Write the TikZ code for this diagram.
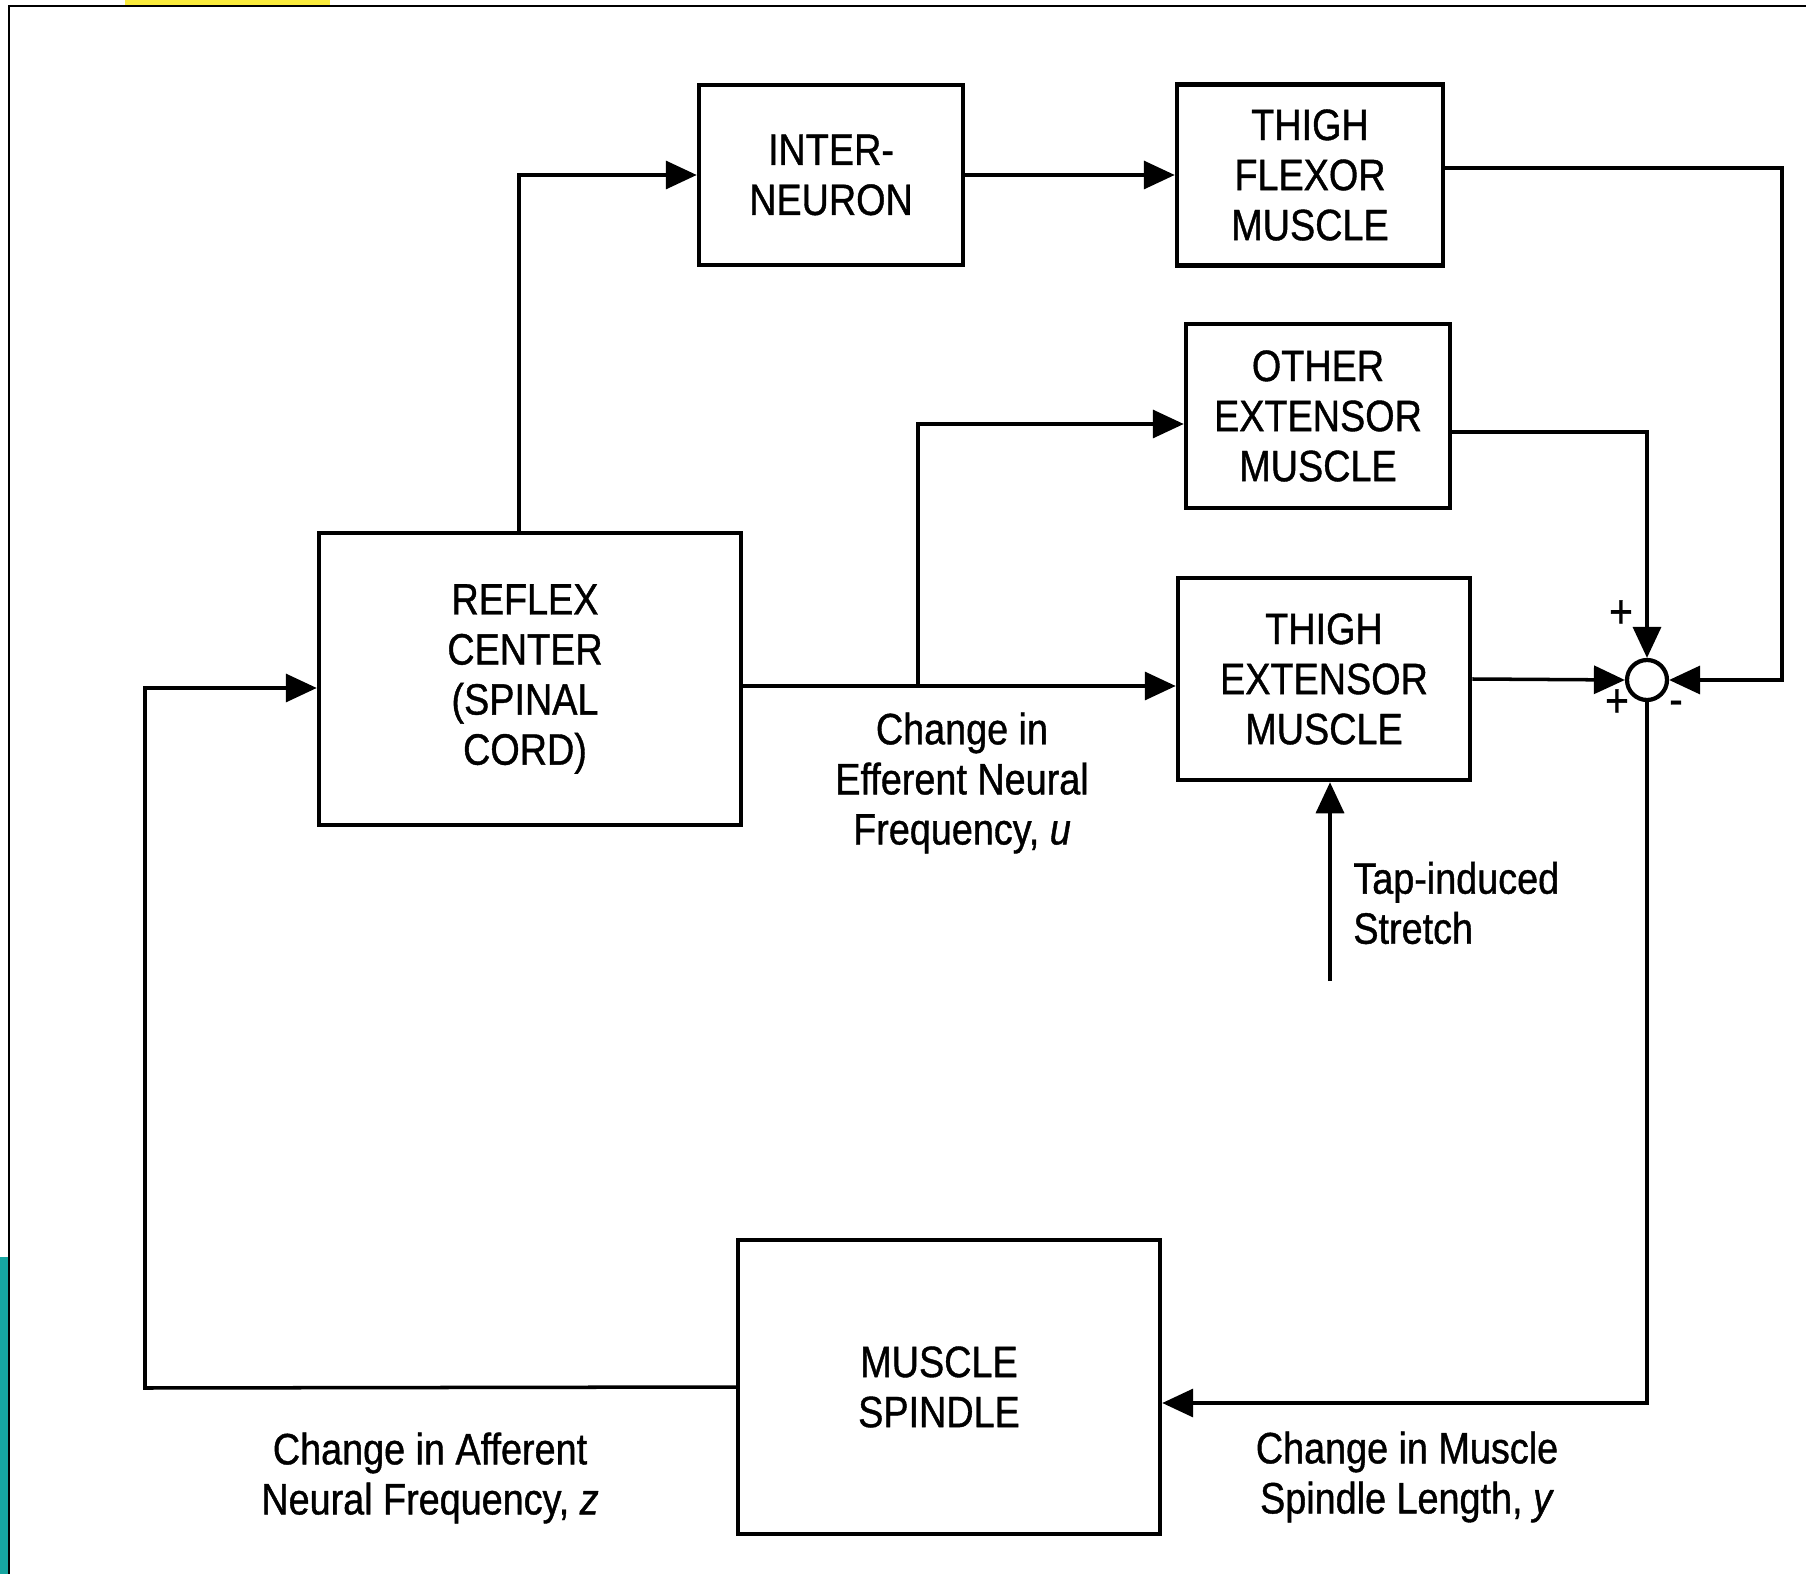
\documentclass[tikz,border=0pt]{standalone}
\usepackage{fontspec}
\setmainfont{Liberation Sans}[FakeStretch=0.86, FakeBold=0.9]
\definecolor{framebar}{RGB}{22,165,160}
\definecolor{logoyellow}{RGB}{250,235,60}
\usepackage{tikz}
\usetikzlibrary{arrows.meta,positioning,calc}

\begin{document}
\begin{tikzpicture}[
  x=0.02cm, y=-0.02cm,
  block/.style={rectangle, draw, line width=2.6pt, align=center, inner sep=0pt, font=\fontsize{25}{28.5}\selectfont},
  sumnode/.style={circle, draw, line width=2.4pt, minimum size=0.8cm, inner sep=0pt},
  arr/.style={-{Triangle[length=0.62cm,width=0.56cm]}, line width=2pt},
  lbl/.style={align=center, inner sep=0pt, font=\fontsize{25}{28.5}\selectfont},
  sgn/.style={inner sep=0pt, font=\fontsize{27}{28}\selectfont}
]
  \useasboundingbox (0,0) rectangle (1806,1574);
  % page frame
  \fill[logoyellow] (125,0) rectangle (330,6);
  \fill[framebar] (0,1257) rectangle (8,1574);
  \draw[line width=1.6pt] (9,1574) -- (9,6) -- (1806,6);

  % blocks
  \node[block, minimum width=5.28cm, minimum height=3.6cm] (inter) at (831,175) {INTER-\\NEURON};
  \node[block, minimum width=5.32cm, minimum height=3.62cm] (flexor) at (1310,175) {THIGH\\FLEXOR\\MUSCLE};
  \node[block, minimum width=5.28cm, minimum height=3.68cm] (other) at (1318,416) {OTHER\\EXTENSOR\\MUSCLE};
  \node[block, minimum width=5.84cm, minimum height=4.04cm] (extensor) at (1324,679) {THIGH\\EXTENSOR\\MUSCLE};
  \node[block, minimum width=8.44cm, minimum height=5.84cm] (reflex) at (530,679) {\hspace*{-0.2cm}REFLEX\\\hspace*{-0.2cm}CENTER\\\hspace*{-0.2cm}(SPINAL\\\hspace*{-0.2cm}CORD)};
  \node[block, minimum width=8.44cm, minimum height=5.88cm] (spindle) at (949,1387) {\hspace*{-0.4cm}MUSCLE\\\hspace*{-0.4cm}SPINDLE};
  \node[sumnode] (sum) at (1647,680) {};

  % signs at the summing point
  \node[sgn] (pa) at (1621,614) {+};
  \node[sgn] (pb) at (1617,703) {+};
  \node[sgn] (mc) at (1676,708) {-};

  % connectors
  \coordinate (br) at (918,686);
  \coordinate (lc) at (145,1388);
  \coordinate (tap) at (1330,981);
  \draw[arr] ([xshift=-0.22cm]reflex.north) |- (inter.west);
  \draw[arr] (inter.east) -- (flexor.west);
  \draw[arr] ([yshift=0.14cm]flexor.east) -| ([xshift=2.26cm]sum.east) -- (sum.east);
  \draw[arr] ([yshift=-0.14cm]reflex.east) -- (br) -- (br -| extensor.west);
  \draw[arr] (br) |- ([yshift=-0.16cm]other.west);
  \draw[arr] ([yshift=-0.32cm]other.east) -| (sum.north);
  \draw[arr] (extensor.east) -- (sum.west);
  \draw[arr] (sum.south) |- ([yshift=-0.32cm]spindle.east);
  \draw[arr] (spindle.west) -- (lc) |- ([yshift=-0.18cm]reflex.west);
  \draw[arr] (tap) -- (tap |- extensor.south);

  % signal labels
  \node[lbl] (eff) at (962,783) {Change in\\Efferent Neural\\Frequency, \textit{u}};
  \node[lbl, anchor=west, align=left] (stretch) at (1353,903) {Tap-induced\\Stretch};
  \node[lbl] (aff) at (430,1478) {Change in Afferent\\Neural Frequency, \textit{z}};
  \node[lbl] (len) at (1407,1477) {Change in Muscle\\Spindle Length, \textit{y}};
\end{tikzpicture}
\end{document}
